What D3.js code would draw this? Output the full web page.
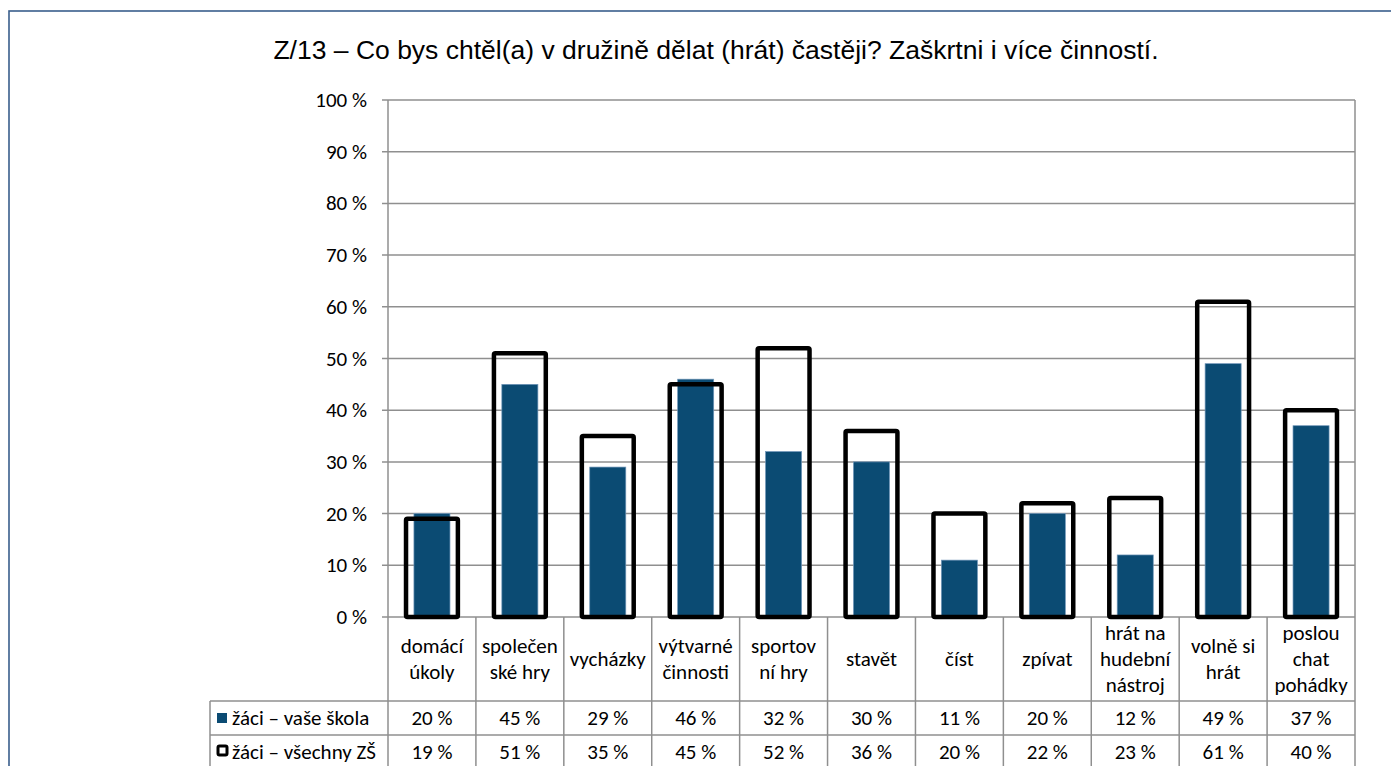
<!DOCTYPE html>
<html>
<head>
<meta charset="utf-8">
<script src="https://cdn.jsdelivr.net/npm/d3@7.9.0/dist/d3.min.js"></script>
<style>
  html, body { margin: 0; padding: 0; background: #fff; }
  svg { display: block; }
  .lbl { font-family: Carlito, Lato, "Open Sans", sans-serif; font-size: 21px; fill: #000; }
  .title { font-family: "Liberation Sans", Arial, sans-serif; font-size: 26.5px; fill: #000; }
</style>
</head>
<body>
<svg id="chart" width="1391" height="766"></svg>
<script>
const title      = 'Z/13 – Co bys chtěl(a) v družině dělat (hrát) častěji? Zaškrtni i více činností.';
const categories = [
  ['domácí','úkoly'], ['společen','ské hry'], ['vycházky'], ['výtvarné','činnosti'],
  ['sportov','ní hry'], ['stavět'], ['číst'], ['zpívat'],
  ['hrát na','hudební','nástroj'], ['volně si','hrát'], ['poslou','chat','pohádky']
];
const seriesNames = ['žáci – vaše škola', 'žáci – všechny ZŠ'];
const school   = [20, 45, 29, 46, 32, 30, 11, 20, 12, 49, 37];
const allZS    = [19, 51, 35, 45, 52, 36, 20, 22, 23, 61, 40];
const yTicks   = [0, 10, 20, 30, 40, 50, 60, 70, 80, 90, 100];

const svg = d3.select('#chart');
const plot = {left: 388, right: 1355, top: 100, bottom: 617};
const tbl  = {left: 210, headBottom: 701, rowH: 34};
const grid = '#8f8f8f';
const blue = '#0b4b73';

const x = d3.scaleBand().domain(d3.range(categories.length)).range([plot.left, plot.right]);
const y = d3.scaleLinear().domain([0, 100]).range([plot.bottom, plot.top]);
const bw = x.bandwidth();

// outer frame
svg.append('rect').attr('x', 9).attr('y', 11).attr('width', 1400).attr('height', 800)
   .attr('fill', 'none').attr('stroke', '#3a5e8c').attr('stroke-width', 1.6);

svg.append('text').attr('class', 'title').attr('x', 716).attr('y', 59)
   .attr('text-anchor', 'middle').text(title);

// gridlines + y labels
svg.append('g').selectAll('line').data(yTicks).join('line')
   .attr('x1', plot.left - 6).attr('x2', plot.right)
   .attr('y1', d => y(d)).attr('y2', d => y(d))
   .attr('stroke', grid).attr('stroke-width', 1.5);
svg.append('g').selectAll('text').data(yTicks).join('text')
   .attr('class', 'lbl').attr('x', 367).attr('y', d => y(d) + 7)
   .attr('text-anchor', 'end').text(d => `${d} %`);

// vertical axis / table verticals
const bounds = d3.range(categories.length + 1).map(i => i < categories.length ? x(i) : plot.right);
const tableBottom = tbl.headBottom + tbl.rowH * 2 + 2;
svg.append('g').selectAll('line').data(bounds).join('line')
   .attr('x1', d => d).attr('x2', d => d)
   .attr('y1', (d, i) => (i === 0 || i === bounds.length - 1) ? plot.top : plot.bottom)
   .attr('y2', tableBottom)
   .attr('stroke', grid).attr('stroke-width', 1.5);

// table horizontals
[tbl.headBottom, tbl.headBottom + tbl.rowH].forEach(yy => {
  svg.append('line').attr('x1', tbl.left).attr('x2', plot.right)
     .attr('y1', yy).attr('y2', yy).attr('stroke', grid).attr('stroke-width', 1.5);
});
svg.append('line').attr('x1', tbl.left).attr('x2', tbl.left)
   .attr('y1', tbl.headBottom).attr('y2', tableBottom).attr('stroke', grid).attr('stroke-width', 1.5);

// bars: school (filled)
svg.append('g').selectAll('rect').data(school).join('rect')
   .attr('x', (d, i) => x(i) + bw / 2 - bw * 0.205)
   .attr('width', bw * 0.41)
   .attr('y', d => y(d)).attr('height', d => y(0) - y(d))
   .attr('fill', blue).attr('stroke', '#6f95b8').attr('stroke-width', 0.7);

// bars: all schools (outline)
svg.append('g').selectAll('rect').data(allZS).join('rect')
   .attr('x', (d, i) => x(i) + bw / 2 - bw * 0.295)
   .attr('width', bw * 0.59)
   .attr('y', d => y(d)).attr('height', d => y(0) - y(d))
   .attr('fill', 'none').attr('stroke', '#000').attr('stroke-width', 4.5)
   .attr('rx', 1.5);

// category labels
const lineH = 26;
const headMid = (plot.bottom + tbl.headBottom) / 2;
categories.forEach((lines, i) => {
  const t = svg.append('text').attr('class', 'lbl').attr('text-anchor', 'middle');
  lines.forEach((ln, k) => {
    t.append('tspan').attr('x', x(i) + bw / 2)
     .attr('y', headMid + (k - (lines.length - 1) / 2) * lineH + 7).text(ln);
  });
});

// table values
[school, allZS].forEach((vals, r) => {
  const cy = tbl.headBottom + tbl.rowH * r + tbl.rowH / 2 + 7;
  svg.append('g').selectAll('text').data(vals).join('text')
     .attr('class', 'lbl').attr('text-anchor', 'middle')
     .attr('x', (d, i) => x(i) + bw / 2).attr('y', cy)
     .text(d => `${d} %`);
  svg.append('text').attr('class', 'lbl').attr('x', 232).attr('y', cy).text(seriesNames[r]);
});

// legend keys
svg.append('rect').attr('x', 217).attr('y', tbl.headBottom + 12).attr('width', 10).attr('height', 10)
   .attr('fill', blue);
svg.append('rect').attr('x', 218).attr('y', tbl.headBottom + tbl.rowH + 11).attr('width', 9).attr('height', 9)
   .attr('rx', 1.5).attr('fill', '#fff').attr('stroke', '#000').attr('stroke-width', 3);
</script>
</body>
</html>
